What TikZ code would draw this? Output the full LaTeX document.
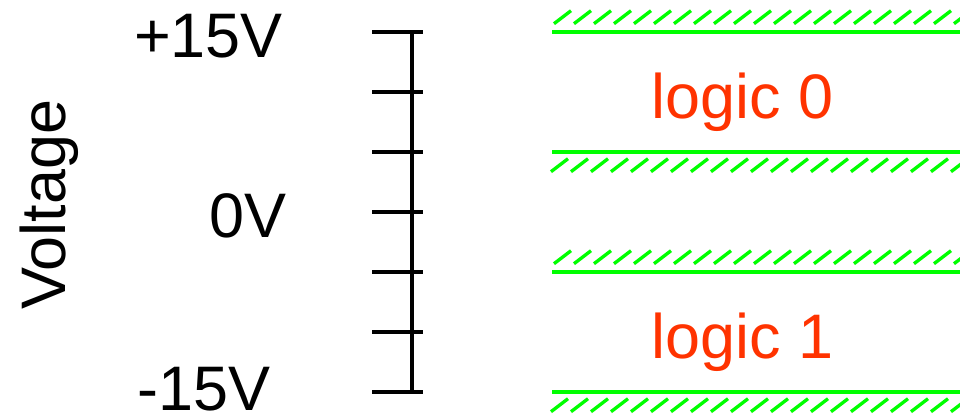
\documentclass[tikz,border=0pt]{standalone}
\usepackage{fontspec}
\setmainfont{Liberation Sans}
\usepackage{xcolor}
\usetikzlibrary{positioning}
\definecolor{levelgreen}{RGB}{0,255,0}
\definecolor{logicred}{RGB}{255,51,0}

\begin{document}
\begin{tikzpicture}[x=0.02cm,y=-0.02cm,
    every node/.style={font=\fontsize{35.8}{40}\selectfont, inner sep=0pt},
    axisline/.style={line width=2.2pt, black},
    levelline/.style={line width=2.3pt, levelgreen},
    hatchline/.style={line width=1.9pt, levelgreen}]
\useasboundingbox (0,0) rectangle (960,419);
\clip (0,0) rectangle (960,419);
% --- voltage scale (left) ---
\node[rotate=90, anchor=base west] (vlabel) at (65,310) {Voltage};
\node[anchor=base east] (vtop) at (283,57) {+15V};
\node[anchor=base east] (vzero) at (287,237) {0V};
\node[anchor=base east] (vbot) at (271,410) {-15V};
\draw[axisline] (412,31.7) -- (412,391.7);
% ticks every 5V
\foreach \k in {0,...,6} {
    \draw[axisline] (372,31.7+60*\k) -- (423,31.7+60*\k);
}
% --- logic levels (right) ---
% level line / hatch offsets / first hatch x
\foreach \ly/\lo/\hi/\xs in {31.7/-8/-21/554, 151.7/20/7/551, 271.7/-8/-21/554, 391.7/20/7/551} {
    \draw[levelline] (552,\ly) -- (960,\ly);
    \foreach \k in {0,...,20}
        \draw[hatchline] (\xs+20*\k,\ly+\lo) -- (\xs+20*\k+17,\ly+\hi);
}
\node[anchor=base west, text=logicred] (lzero) at (651,118) {logic 0};
\node[anchor=base west, text=logicred] (lone) at (651,358) {logic 1};
\end{tikzpicture}
\end{document}
